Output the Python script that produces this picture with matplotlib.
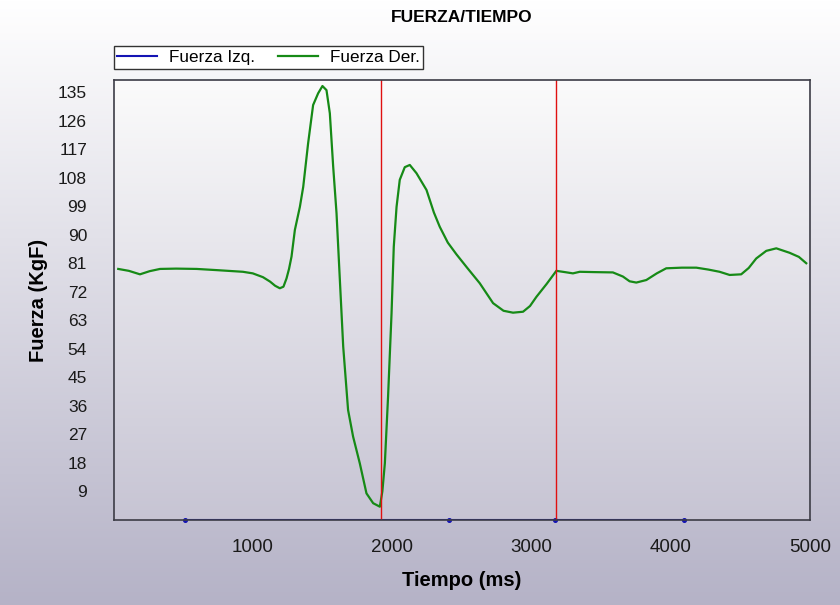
import numpy as np
import matplotlib.pyplot as plt

# datos
tiempo = [34, 110, 190, 260, 334, 450, 597, 750, 929, 1000, 1073, 1124, 1160, 1194,
          1220, 1242, 1260, 1278, 1302, 1338, 1362, 1397, 1433, 1469, 1500, 1529,
          1553, 1577, 1601, 1625, 1649, 1684, 1720, 1768, 1816, 1864, 1912, 1930,
          1948, 1971, 1996, 2012, 2032, 2055, 2091, 2127, 2175, 2247, 2300, 2342,
          2400, 2462, 2540, 2629, 2725, 2800, 2868, 2940, 2990, 3036, 3110, 3179,
          3240, 3298, 3347, 3450, 3585, 3657, 3705, 3753, 3825, 3900, 3968, 4080,
          4184, 4270, 4351, 4423, 4506, 4560, 4614, 4686, 4758, 4853, 4920, 4973]
fuerza_der = [79.2, 78.6, 77.5, 78.5, 79.2, 79.3, 79.2, 78.8, 78.3, 77.8, 76.6, 75.2,
              73.9, 73.1, 73.6, 76.2, 79.2, 83.1, 91.5, 98.8, 105.1, 118.8, 130.9,
              134.6, 136.9, 135.6, 128.3, 111.5, 96.8, 75.7, 54.7, 34.7, 26.3, 17.9,
              8.4, 5.3, 4.2, 9.0, 17.9, 38.9, 65.2, 86.2, 98.8, 107.3, 111.3, 112.0,
              109.4, 104.1, 97.0, 92.5, 87.5, 83.8, 79.5, 74.7, 68.4, 66.0, 65.4,
              65.7, 67.5, 70.4, 74.5, 78.6, 78.2, 77.8, 78.3, 78.2, 78.1, 76.8, 75.3,
              74.9, 75.7, 77.8, 79.4, 79.6, 79.6, 79.0, 78.3, 77.3, 77.5, 79.5, 82.5,
              84.9, 85.7, 84.3, 83.0, 81.0]
tiempo_izq = [513, 2407, 3167, 4099]
fuerza_izq = [0, 0, 0, 0]
marcas = [1917, 3174]
xticks = [1000, 2000, 3000, 4000, 5000]
yticks = list(range(9, 136, 9))

plt.rcParams['font.family'] = ['Liberation Sans', 'DejaVu Sans']

W, H = 840, 605
fig = plt.figure(figsize=(W/100, H/100), dpi=100)


def degradado(arriba, abajo, n=256):
    t = np.linspace(0, 1, n)[:, None]
    a = np.array(arriba)[None, :]
    b = np.array(abajo)[None, :]
    return (a*(1-t) + b*t)[:, None, :]


# fondo de la figura
bg = fig.add_axes([0, 0, 1, 1], zorder=-10)
bg.imshow(degradado((1.0, 1.0, 1.0), (0.71, 0.70, 0.78)), extent=[0, 1, 0, 1],
          aspect='auto')
bg.set_axis_off()

x0, x1, y0, y1 = 113.5, 810, 80, 520
ax = fig.add_axes([x0/W, 1-y1/H, (x1-x0)/W, (y1-y0)/H])
xmax, ymax = 5000, 138.8
ax.imshow(degradado((0.985, 0.985, 0.985), (0.78, 0.77, 0.83)),
          extent=[0, xmax, 0, ymax], aspect='auto', zorder=0)

ax.plot(tiempo_izq, fuerza_izq, color='#1414b4', lw=1.5, zorder=2, label='Fuerza Izq.')
ax.plot(tiempo_izq, fuerza_izq, ls='none', marker='o', ms=2.6, color='#1414b4',
        zorder=2, clip_on=False)
ax.plot(tiempo, fuerza_der, color='#168a16', lw=1.6, zorder=2.2, label='Fuerza Der.',
        solid_joinstyle='round')
for m in marcas:
    ax.axvline(m, color='#e01010', lw=1.0, zorder=2.3)

ax.set_xlim(0, xmax)
ax.set_ylim(0, ymax)
ax.set_xticks(xticks)
ax.set_yticks(yticks)
ax.tick_params(axis='x', length=0, labelsize=13.5, pad=14, colors='#1a1a1a')
ax.tick_params(axis='y', length=0, labelsize=12.5, pad=19, colors='#1a1a1a')
for s in ax.spines.values():
    s.set_color('#3c3c46')
    s.set_linewidth(1.2)

ax.legend(loc='lower left', bbox_to_anchor=(0, 1.025), ncol=2, frameon=True,
          fancybox=False, edgecolor='#333333', facecolor='white', framealpha=1,
          fontsize=12.3, handlelength=2.3, handletextpad=0.7, columnspacing=1.4,
          borderpad=0.22, borderaxespad=0)

fig.text(462/W, 1-18/H, 'FUERZA/TIEMPO', ha='center', va='center',
         fontsize=12.5, fontweight='bold')
fig.text(462/W, 1-581/H, 'Tiempo (ms)', ha='center', va='center',
         fontsize=14.5, fontweight='bold')
fig.text(38/W, 1-300/H, 'Fuerza (KgF)', ha='center', va='center', rotation=90,
         fontsize=14.5, fontweight='bold')

fig.savefig('out.png', dpi=100)
